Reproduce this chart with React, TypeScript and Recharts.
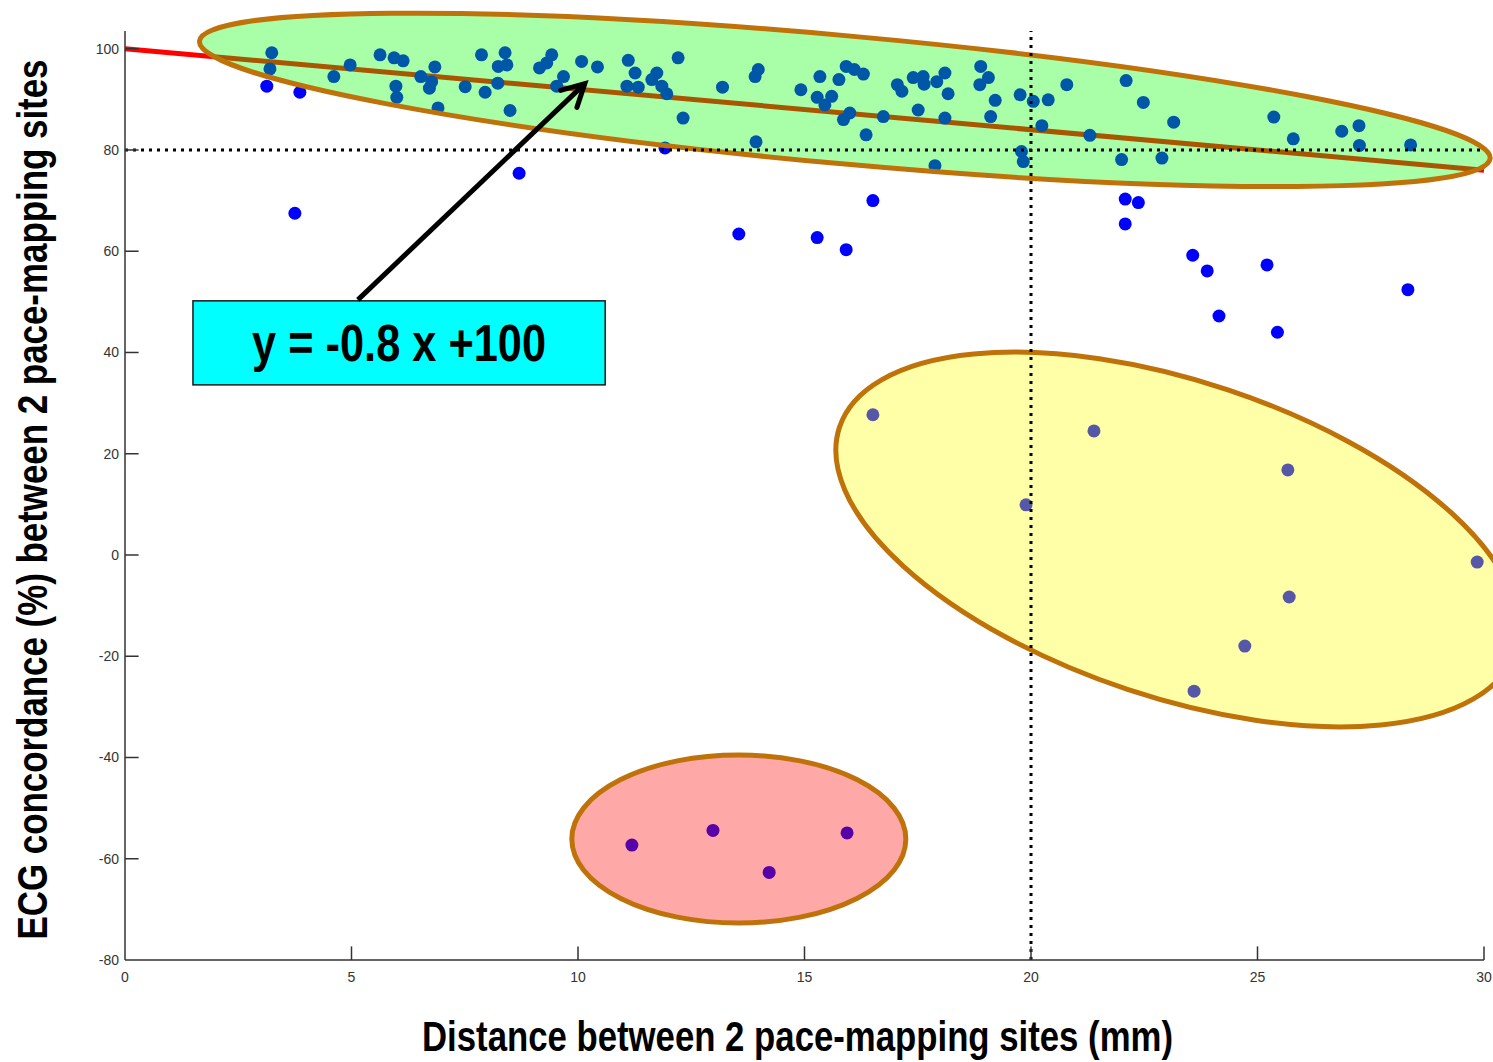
import React from "react";
import { ComposedChart, Scatter, XAxis, YAxis, ReferenceLine, ReferenceArea, ReferenceDot } from "recharts";

const xTicks = [0, 5, 10, 15, 20, 25, 30];
const yTicks = [-80, -60, -40, -20, 0, 20, 40, 60, 80, 100];

// pairs of [distance mm, concordance %]
const upperSites: [number, number][] = [
  [3.24, 99.2], [3.2, 96.0], [3.13, 92.6], [3.86, 91.4], [4.61, 94.5], [4.97, 96.8], [5.63, 98.8], [5.94, 98.2],
  [6.14, 97.6], [5.98, 92.6], [6.0, 90.4], [6.53, 94.5], [6.84, 96.4], [6.72, 92.2], [6.77, 93.5], [6.91, 88.3],
  [7.51, 92.5], [7.87, 98.8], [7.95, 91.4], [8.23, 93.2], [8.24, 96.5], [8.39, 99.2], [8.5, 87.8], [8.43, 96.8],
  [8.7, 75.4], [9.42, 98.8], [9.31, 97.2], [9.15, 96.2], [9.68, 94.5], [9.53, 92.6], [10.08, 97.5], [10.43, 96.4],
  [11.11, 97.7], [11.26, 95.2], [11.08, 92.6], [11.33, 92.4], [11.74, 95.2], [11.63, 93.9], [11.85, 92.6], [11.96, 91.1],
  [12.21, 98.2], [12.32, 86.3], [11.92, 80.4], [13.19, 92.4], [13.91, 94.5], [13.98, 95.9], [13.93, 81.6], [14.92, 91.9],
  [15.34, 94.5], [15.28, 90.4], [15.45, 88.9], [15.6, 90.6], [15.76, 93.9], [15.92, 96.5], [16.1, 95.9], [16.3, 95.0],
  [16.0, 87.3], [15.86, 86.0], [16.36, 83.0], [16.74, 86.6], [17.05, 92.9], [17.15, 91.6], [17.4, 94.3], [17.62, 94.5],
  [17.64, 93.0], [17.92, 93.5], [18.1, 95.2], [18.17, 91.1], [17.51, 87.9], [18.1, 86.3], [17.88, 76.9], [18.89, 96.5],
  [19.06, 94.3], [18.87, 92.9], [19.21, 89.8], [19.11, 86.6], [19.76, 90.9], [19.79, 79.7], [19.83, 77.7], [20.05, 89.6],
  [20.38, 89.9], [20.79, 92.9], [20.24, 84.8], [21.3, 82.9], [22.1, 93.7], [22.48, 89.4], [23.15, 85.5], [22.0, 78.1],
  [22.89, 78.4], [25.36, 86.5], [25.79, 82.2], [26.86, 83.7], [27.24, 84.8], [27.25, 80.9], [28.38, 81.0],
];
const middleSites: [number, number][] = [
  [3.75, 67.5], [13.55, 63.4], [15.28, 62.7], [15.92, 60.3], [16.51, 70.0], [22.08, 70.3], [22.37, 69.6],
  [22.08, 65.4], [23.57, 59.2], [23.89, 56.1], [25.21, 57.3], [28.32, 52.4], [24.15, 47.2], [25.44, 44.0],
];
const spreadSites: [number, number][] = [
  [16.51, 27.7], [21.39, 24.5], [19.89, 9.9], [25.67, 16.8], [29.85, -1.4], [25.7, -8.3], [24.72, -18.0], [23.6, -26.9],
];
const discordantSites: [number, number][] = [
  [11.19, -57.3], [12.98, -54.4], [14.22, -62.7], [15.94, -54.9],
];

const fitSlope = -0.8;
const fitIntercept = 100;
const xThreshold = 20;
const yThreshold = 80;

// highlighted zones: centre in data units, radii in px, tilt in degrees
const zones = [
  { key: "agree", x: 15.89, y: 89.9, rx: 648, ry: 64, tilt: 5.2, fill: "#00ff00" },
  { key: "spread", x: 23.23, y: 3.06, rx: 356, ry: 158, tilt: 18.4, fill: "#ffff00" },
  { key: "discord", x: 13.55, y: -56.1, rx: 167, ry: 84, tilt: 0, fill: "#ff0000" },
];

const W = 1493;
const H = 1062;
const M = { top: 31, right: 9, bottom: 0, left: 0 };
const Y_AXIS_W = 125;
const X_AXIS_H = 102;
const X_DOMAIN: [number, number] = [0, 30];
const Y_DOMAIN: [number, number] = [-80, 103.5];
const pxPerX = (W - M.left - M.right - Y_AXIS_W) / (X_DOMAIN[1] - X_DOMAIN[0]);
const pxPerY = (H - M.top - M.bottom - X_AXIS_H) / (Y_DOMAIN[1] - Y_DOMAIN[0]);
const TICK_PX = 13.6;

const narrow = "'Liberation Sans Narrow', 'Arial Narrow', 'Liberation Sans', Arial, sans-serif";
const tickStyle = { fontSize: 14, fill: "#333", fontFamily: narrow };
const axisStroke = "#333";

const toPts = (arr: [number, number][]) => arr.map(([x, y]) => ({ x, y }));

const Dot = (p: any) => <circle cx={p.cx} cy={p.cy} r={6.5} fill="#0000ff" />;

const XTitle = (p: any) => {
  const vb = p.viewBox;
  return (
    <text x={vb.x + vb.width / 2 - 7} y={vb.y + 91} textAnchor="middle" fontFamily={narrow} fontWeight="bold"
      fontSize={42} fill="#000" textLength={751} lengthAdjust="spacingAndGlyphs">
      Distance between 2 pace-mapping sites (mm)
    </text>
  );
};

const YTitle = (p: any) => {
  const vb = p.viewBox;
  const cx = vb.x + 47;
  const cy = vb.y + vb.height / 2 + 4;
  return (
    <text x={cx} y={cy} transform={`rotate(-90 ${cx} ${cy})`} textAnchor="middle" fontFamily={narrow}
      fontWeight="bold" fontSize={43} fill="#000" textLength={880} lengthAdjust="spacingAndGlyphs">
      ECG concordance (%) between 2 pace-mapping sites
    </text>
  );
};

const Arrow = (p: any) => {
  const { x1, y1, x2, y2 } = p;
  const ang = Math.atan2(y2 - y1, x2 - x1);
  const len = 25;
  const spread = 0.49;
  const a1 = ang + Math.PI - spread;
  const a2 = ang + Math.PI + spread;
  const pts = `${x2 + len * Math.cos(a1)},${y2 + len * Math.sin(a1)} ${x2},${y2} ${x2 + len * Math.cos(a2)},${y2 + len * Math.sin(a2)}`;
  return (
    <g>
      <line x1={x1} y1={y1} x2={x2} y2={y2} stroke="#000" strokeWidth={5} />
      <polyline points={pts} fill="none" stroke="#000" strokeWidth={5} strokeLinecap="round" />
    </g>
  );
};

const EquationBox = (p: any) => {
  const { x, y, width, height } = p;
  return (
    <g>
      <rect x={x} y={y} width={width} height={height} fill="#00ffff" stroke="#1a1a1a" strokeWidth={1.5} />
      <text x={x + width / 2} y={y + height / 2 + 18} textAnchor="middle" fontFamily={narrow} fontWeight="bold"
        fontSize={51} fill="#000" textLength={294} lengthAdjust="spacingAndGlyphs">
        {`y = ${fitSlope} x +${fitIntercept}`}
      </text>
    </g>
  );
};

export default function App() {
  const fitLine = [
    { x: X_DOMAIN[0], y: fitIntercept + fitSlope * X_DOMAIN[0] },
    { x: X_DOMAIN[1], y: fitIntercept + fitSlope * X_DOMAIN[1] },
  ];
  const xTickLen = TICK_PX / pxPerY;
  const yTickLen = TICK_PX / pxPerX;

  return (
    <div style={{ width: W, height: H }}>
      <style>{"body{margin:0}"}</style>
      <ComposedChart width={W} height={H} margin={M}>
        <XAxis type="number" dataKey="x" domain={X_DOMAIN} ticks={xTicks} interval={0} tickSize={0} tickMargin={12}
          tickLine={false} axisLine={{ stroke: axisStroke, strokeWidth: 1.5 }} tick={tickStyle} height={X_AXIS_H}
          allowDataOverflow={false} zIndex={500} label={{ content: XTitle }} />
        <YAxis type="number" dataKey="y" domain={Y_DOMAIN} ticks={yTicks} interval={0} tickSize={0} tickMargin={6}
          tickLine={false} axisLine={{ stroke: axisStroke, strokeWidth: 1.5 }} tick={tickStyle} width={Y_AXIS_W}
          zIndex={500} label={{ content: YTitle }} />

        <ReferenceLine segment={fitLine} stroke="#ff0000" strokeWidth={5} zIndex={100} />

        <Scatter data={toPts(upperSites)} shape={Dot} isAnimationActive={false} zIndex={200} />
        <Scatter data={toPts(middleSites)} shape={Dot} isAnimationActive={false} zIndex={200} />
        <Scatter data={toPts(spreadSites)} shape={Dot} isAnimationActive={false} zIndex={200} />
        <Scatter data={toPts(discordantSites)} shape={Dot} isAnimationActive={false} zIndex={200} />

        {zones.map((z) => (
          <ReferenceDot key={z.key} x={z.x} y={z.y} r={1} zIndex={300}
            shape={(p: any) => (
              <ellipse cx={p.cx} cy={p.cy} rx={z.rx} ry={z.ry} transform={`rotate(${z.tilt} ${p.cx} ${p.cy})`}
                fill={z.fill} fillOpacity={0.34} stroke="#c0720a" strokeWidth={5} />
            )} />
        ))}

        <ReferenceLine y={yThreshold} stroke="#000" strokeWidth={3} strokeDasharray="3 5" zIndex={400} />
        <ReferenceLine x={xThreshold} stroke="#000" strokeWidth={3} strokeDasharray="3 5" zIndex={400} />

        {xTicks.filter((t) => t !== X_DOMAIN[0]).map((t) => (
          <ReferenceLine key={`xt${t}`} segment={[{ x: t, y: Y_DOMAIN[0] }, { x: t, y: Y_DOMAIN[0] + xTickLen }]}
            stroke={axisStroke} strokeWidth={1.5} zIndex={510} />
        ))}
        {yTicks.filter((t) => t !== Y_DOMAIN[0]).map((t) => (
          <ReferenceLine key={`yt${t}`} segment={[{ x: X_DOMAIN[0], y: t }, { x: X_DOMAIN[0] + yTickLen, y: t }]}
            stroke={axisStroke} strokeWidth={1.5} zIndex={510} />
        ))}

        <ReferenceArea x1={1.5} x2={10.6} y1={33.6} y2={50.2} shape={EquationBox} zIndex={600} />
        <ReferenceLine segment={[{ x: 5.14, y: 50.4 }, { x: 10.15, y: 93.1 }]} shape={Arrow} zIndex={610} />
      </ComposedChart>
    </div>
  );
}
